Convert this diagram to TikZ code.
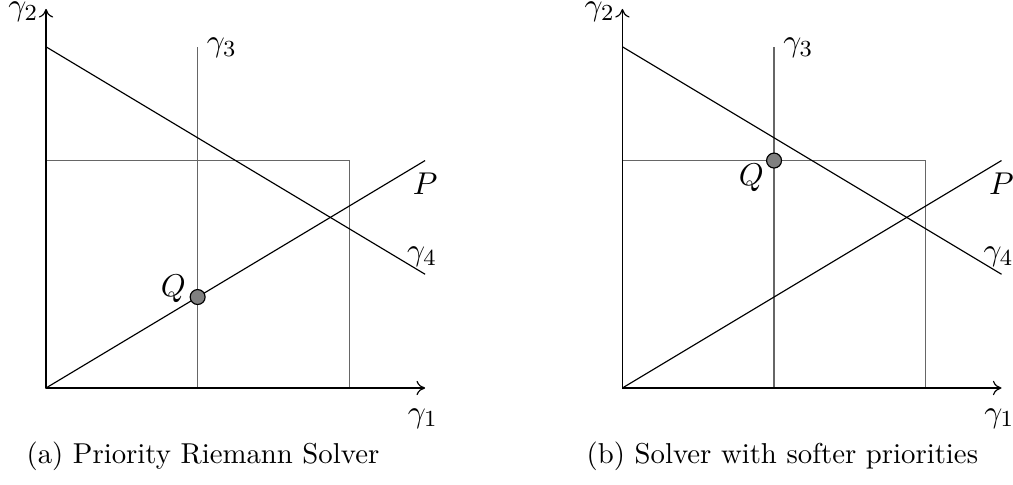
\documentclass[tikz,border=0pt]{standalone}
\usetikzlibrary{arrows.meta}
\begin{document}
\begin{tikzpicture}[x=26.36pt,y=26.36pt,
  axis/.style={draw=black,line width=0.4pt,-{To[length=3pt,width=5pt]}},
  boxline/.style={draw=black!60,line width=0.4pt},
  slope/.style={draw=black,line width=0.4pt},
  qdot/.style={circle,draw=black,fill=black!50,line width=0.4pt,inner sep=0pt,minimum size=5.2pt},
  lab/.style={inner sep=0pt,font=\fontsize{10.95}{13.6}\selectfont},
  captext/.style={inner sep=0pt}]
\useasboundingbox (-16pt,-33.7pt) rectangle (336.2pt,134.9pt);
% ---------- panel (a)
\begin{scope}
  \coordinate (aO) at (0,0);
  \coordinate (aX) at (5,0);
  \coordinate (aY) at (0,5);
  \draw[boxline] (0,0) rectangle (4,3);
  \coordinate (a3s) at (2,0);
  \coordinate (a3e) at (2,4.5);
  \draw[boxline] (a3s) -- (a3e);
  \coordinate (a4s) at (0,4.5);
  \coordinate (a4e) at (5,1.5);
  \draw[slope] (a4s) -- (a4e);
  \coordinate (aPe) at (5,3);
  \draw[slope] (aO) -- (aPe);
  \draw[axis] (aO) -- (aX);
  \draw[axis] (aO) -- (aY);
  \node[qdot] (aQ) at (2,1.2) {};
  \node[lab] (ag1) at (4.97,-0.40) {$\gamma_1$};
  \node[lab] (ag2) at (-0.30,4.96) {$\gamma_2$};
  \node[lab] (ag3) at (2.32,4.49) {$\gamma_3$};
  \node[lab] (ag4) at (4.96,1.73) {$\gamma_4$};
  \node[lab] (aP) at (5.0,2.69) {$P$};
  \node[lab] (aQl) at (1.68,1.31) {$Q$};
  \node[captext] (acap) at (2.07,-0.90) {(a) Priority Riemann Solver};
\end{scope}
% ---------- panel (b)
\begin{scope}[xshift=200.4pt]
  \coordinate (bO) at (0,0);
  \coordinate (bX) at (5,0);
  \coordinate (bY) at (0,5);
  \draw[boxline] (0,0) rectangle (4,3);
  \coordinate (b3s) at (2,0);
  \coordinate (b3e) at (2,4.5);
  \draw[boxline] (b3s) -- (b3e);
  \coordinate (b4s) at (0,4.5);
  \coordinate (b4e) at (5,1.5);
  \draw[slope] (b4s) -- (b4e);
  \coordinate (bPe) at (5,3);
  \draw[slope] (bO) -- (bPe);
  \draw[axis] (bO) -- (bX);
  \draw[axis] (bO) -- (bY);
  \node[qdot] (bQ) at (2,3) {};
  \node[lab] (bg1) at (4.97,-0.40) {$\gamma_1$};
  \node[lab] (bg2) at (-0.30,4.96) {$\gamma_2$};
  \node[lab] (bg3) at (2.32,4.49) {$\gamma_3$};
  \node[lab] (bg4) at (4.96,1.73) {$\gamma_4$};
  \node[lab] (bP) at (5.0,2.69) {$P$};
  \node[lab] (bQl) at (1.70,2.77) {$Q$};
  \node[captext] (bcap) at (2.11,-0.90) {(b) Solver with softer priorities};
\end{scope}
\end{tikzpicture}
\end{document}
